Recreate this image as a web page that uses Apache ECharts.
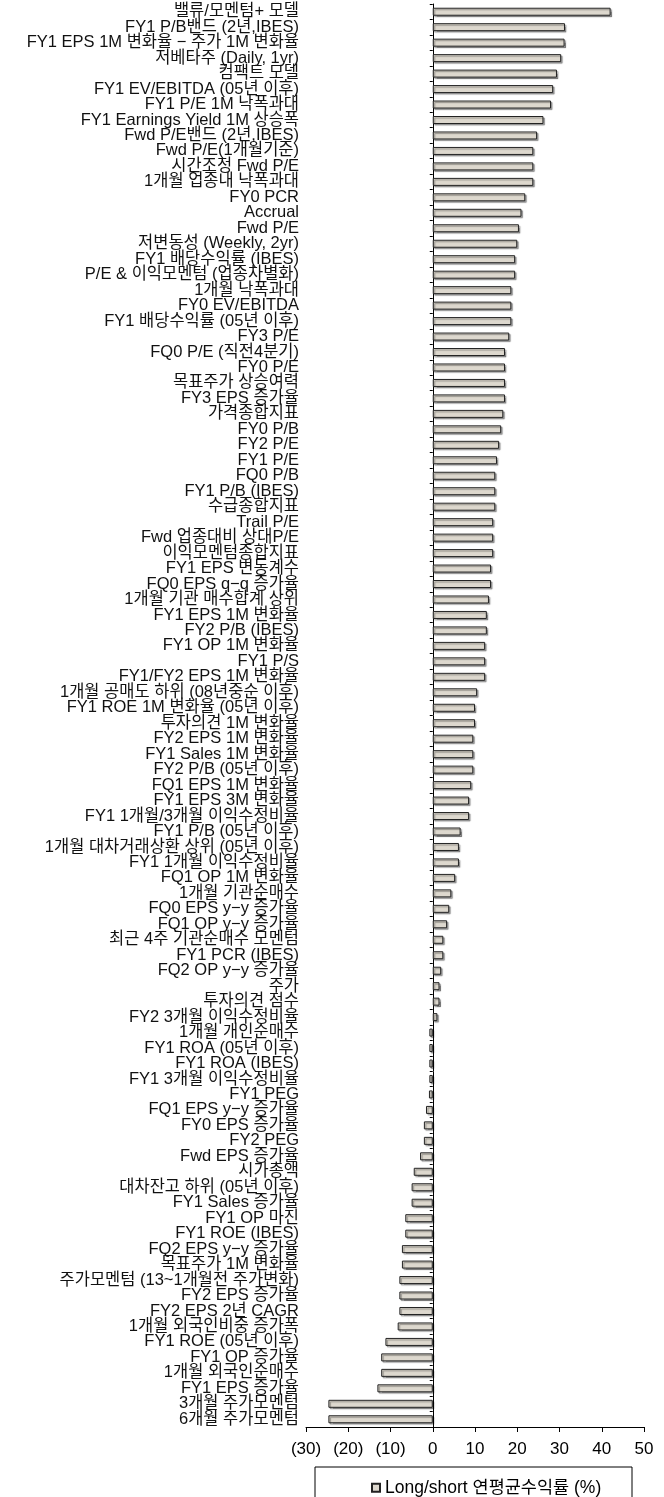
<!DOCTYPE html>
<html>
<head>
<meta charset="utf-8">
<script src="https://cdn.jsdelivr.net/npm/echarts@6/dist/echarts.min.js"></script>
<style>
  html, body { margin: 0; padding: 0; background: #fff; }
  #chart { width: 664px; height: 1497px; }
</style>
</head>
<body>
<div id="chart"></div>
<script>
// Factor names, top to bottom
const categories = [
  '밸류/모멘텀+ 모델', 'FY1 P/B밴드 (2년,IBES)', 'FY1 EPS 1M 변화율 − 주가 1M 변화율', '저베타주 (Daily, 1yr)',
  '컴팩트 모델', 'FY1 EV/EBITDA (05년 이후)', 'FY1 P/E 1M 낙폭과대', 'FY1 Earnings Yield 1M 상승폭',
  'Fwd P/E밴드 (2년,IBES)', 'Fwd P/E(1개월기준)', '시간조정 Fwd P/E', '1개월 업종내 낙폭과대',
  'FY0 PCR', 'Accrual', 'Fwd P/E', '저변동성 (Weekly, 2yr)',
  'FY1 배당수익률 (IBES)', 'P/E & 이익모멘텀 (업종차별화)', '1개월 낙폭과대', 'FY0 EV/EBITDA',
  'FY1 배당수익률 (05년 이후)', 'FY3 P/E', 'FQ0 P/E (직전4분기)', 'FY0 P/E',
  '목표주가 상승여력', 'FY3 EPS 증가율', '가격종합지표', 'FY0 P/B',
  'FY2 P/E', 'FY1 P/E', 'FQ0 P/B', 'FY1 P/B (IBES)',
  '수급종합지표', 'Trail P/E', 'Fwd 업종대비 상대P/E', '이익모멘텀종합지표',
  'FY1 EPS 변동계수', 'FQ0 EPS q−q 증가율', '1개월 기관 매수합계 상위', 'FY1 EPS 1M 변화율',
  'FY2 P/B (IBES)', 'FY1 OP 1M 변화율', 'FY1 P/S', 'FY1/FY2 EPS 1M 변화율',
  '1개월 공매도 하위 (08년중순 이후)', 'FY1 ROE 1M 변화율 (05년 이후)', '투자의견 1M 변화율', 'FY2 EPS 1M 변화율',
  'FY1 Sales 1M 변화율', 'FY2 P/B (05년 이후)', 'FQ1 EPS 1M 변화율', 'FY1 EPS 3M 변화율',
  'FY1 1개월/3개월 이익수정비율', 'FY1 P/B (05년 이후)', '1개월 대차거래상환 상위 (05년 이후)', 'FY1 1개월 이익수정비율',
  'FQ1 OP 1M 변화율', '1개월 기관순매수', 'FQ0 EPS y−y 증가율', 'FQ1 OP y−y 증가율',
  '최근 4주 기관순매수 모멘텀', 'FY1 PCR (IBES)', 'FQ2 OP y−y 증가율', '주가',
  '투자의견 점수', 'FY2 3개월 이익수정비율', '1개월 개인순매수', 'FY1 ROA (05년 이후)',
  'FY1 ROA (IBES)', 'FY1 3개월 이익수정비율', 'FY1 PEG', 'FQ1 EPS y−y 증가율',
  'FY0 EPS 증가율', 'FY2 PEG', 'Fwd EPS 증가율', '시가총액',
  '대차잔고 하위 (05년 이후)', 'FY1 Sales 증가율', 'FY1 OP 마진', 'FY1 ROE (IBES)',
  'FQ2 EPS y−y 증가율', '목표주가 1M 변화율', '주가모멘텀 (13~1개월전 주가변화)', 'FY2 EPS 증가율',
  'FY2 EPS 2년 CAGR', '1개월 외국인비중 증가폭', 'FY1 ROE (05년 이후)', 'FY1 OP 증가율',
  '1개월 외국인순매수', 'FY1 EPS 증가율', '3개월 주가모멘텀', '6개월 주가모멘텀'
];

// Long/short annualised return (%)
const returns = [
  42.1, 31.3, 31.2, 30.4, 29.4, 28.5, 28.0, 26.2, 24.7, 23.8, 23.8, 23.8,
  21.9, 21.0, 20.4, 20.0, 19.5, 19.5, 18.6, 18.6, 18.6, 18.1, 17.1, 17.1,
  17.1, 17.1, 16.7, 16.2, 15.7, 15.2, 14.8, 14.8, 14.8, 14.3, 14.3, 14.3,
  13.8, 13.8, 13.3, 12.8, 12.8, 12.4, 12.4, 12.4, 10.5, 10.0, 10.0, 9.6,
  9.6, 9.6, 9.1, 8.6, 8.6, 6.6, 6.2, 6.2, 5.3, 4.4, 3.9, 3.4,
  2.5, 2.5, 2.0, 1.6, 1.6, 1.1, -0.8, -0.8, -0.8, -0.8, -0.9, -1.6,
  -2.1, -2.1, -3.0, -4.5, -5.0, -5.0, -6.5, -6.5, -7.3, -7.3, -7.9, -7.9,
  -7.9, -8.3, -11.2, -12.2, -12.2, -13.1, -24.7, -24.7
];

const seriesName = 'Long/short 연평균수익률 (%)';
const xTicks = { min: -30, max: 50, step: 10 };

const FONT = "'Liberation Sans', 'Noto Sans CJK KR', sans-serif";

const chart = echarts.init(document.getElementById('chart'), null, { renderer: 'canvas' });

chart.setOption({
  animation: false,
  backgroundColor: '#ffffff',
  textStyle: { fontFamily: FONT },
  grid: {
    left: 306, right: 20, top: 4, bottom: 70,
    containLabel: false,
    outerBoundsMode: 'none'
  },
  xAxis: {
    type: 'value',
    min: xTicks.min,
    max: xTicks.max,
    interval: xTicks.step,
    axisLine: { show: true, onZero: false, lineStyle: { color: '#000', width: 1 } },
    axisTick: { show: true, length: 5, lineStyle: { color: '#000' } },
    splitLine: { show: false },
    axisLabel: {
      color: '#000',
      fontSize: 17,
      fontFamily: FONT,
      margin: 14,
      formatter: v => (v < 0 ? '(' + Math.abs(v) + ')' : String(v))
    }
  },
  yAxis: {
    type: 'category',
    inverse: true,
    data: categories,
    axisLine: { show: true, onZero: true, lineStyle: { color: '#000', width: 1 } },
    axisTick: { show: true, length: 3, lineStyle: { color: '#000' } },
    axisLabel: {
      color: '#111',
      fontSize: 16.5,
      fontFamily: FONT,
      margin: 7,
      interval: 0
    }
  },
  legend: {
    data: [seriesName],
    left: 366,
    top: 1474,
    icon: 'rect',
    itemWidth: 8,
    itemHeight: 8,
    textStyle: { color: '#000', fontSize: 17.5, fontFamily: FONT }
  },
  graphic: [{
    type: 'rect',
    shape: { x: 315, y: 1467, width: 317, height: 60 },
    style: { fill: 'none', stroke: '#000', lineWidth: 1 },
    silent: true
  }],
  series: [{
    name: seriesName,
    type: 'bar',
    data: returns,
    barWidth: 8,
    itemStyle: {
      color: '#ddd8ce',
      borderColor: '#222',
      borderWidth: 1,
      shadowColor: 'rgba(0,0,0,0.35)',
      shadowBlur: 1,
      shadowOffsetX: 1.5,
      shadowOffsetY: 1.5
    }
  }]
});
</script>
</body>
</html>
